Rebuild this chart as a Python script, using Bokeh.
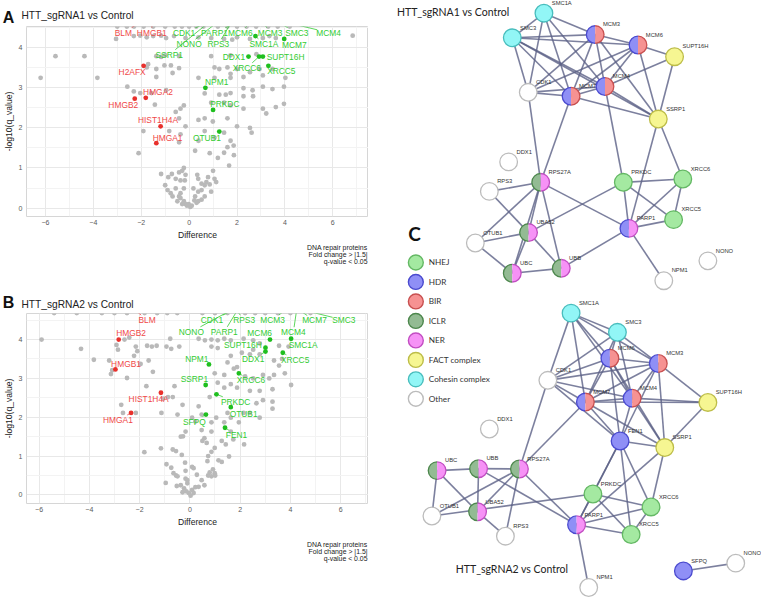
import math
from bokeh.plotting import figure
from bokeh.models import Range1d, FixedTicker
from bokeh.layouts import row, column
from bokeh.embed import file_html
from bokeh.resources import INLINE
from bokeh.core.properties import value

FONT = "Liberation Sans"
NFONT = "Lato"

# ---------------- Volcano A data ----------------
grayA = [(-6.2,3.25),(-5.58,3.79),(-4.37,3.79),(-3.83,3.25),(-3.05,4.22),(-2.31,4.29),(-2.04,4.3),(-1.77,4.26),(-1.5,4.29),(-1.17,4.3),(-0.96,4.24),(-0.63,4.29),(-0.15,4.24),(0.39,4.26),(0.92,4.24),(1.46,4.22),(1.8,4.2),(2.0,4.26),(2.54,4.22),(3.08,4.24),(3.35,4.29),(3.62,4.24),(6.83,4.3),
(-1.37,3.79),(-1.17,3.77),(-1.0,3.81),(-0.42,3.79),(0.92,3.79),(1.73,3.81),(2.81,3.84),
(-1.71,3.59),(-1.77,3.51),(-1.37,3.47),(-1.03,3.56),(-0.76,3.56),(-0.42,3.49),(-1.37,3.27),(-0.69,3.37),(0.39,3.25),(1.06,3.51),(1.26,3.47),(1.6,3.51),(1.73,3.35),(2.0,3.47),(2.27,3.27),(2.54,3.39),(2.94,3.47),(3.08,3.31),(3.48,3.47),(4.02,3.25),(1.73,3.25),(1.06,3.25),
(-2.58,3.03),(-2.31,2.91),(-2.04,2.87),(-1.57,2.87),(-0.96,2.94),(0.65,2.86),(1.26,2.83),(1.53,2.83),(1.73,2.87),(2.27,2.99),(2.65,2.94),(2.67,2.79),(3.08,3.03),(3.48,2.97),(3.96,3.03),(2.27,2.79),
(-1.43,2.58),(-0.56,2.4),(-0.22,2.56),(0.92,2.63),(1.46,2.63),(1.73,2.56),(2.27,2.48),(3.08,2.48),(3.62,2.52),(3.96,2.6),(-0.36,2.48),(3.22,2.36),
(-0.42,2.24),(0.39,2.2),(0.65,2.24),(0.99,2.16),(1.6,2.24),(2.0,2.04),(2.54,2.0),(2.61,1.88),(-0.15,2.04),(-0.83,1.92),(-0.36,1.84),(0.65,1.92),(1.46,1.88),(1.73,1.68),(1.86,1.56),(-1.91,1.92),(-0.42,1.64),(0.39,1.68),(1.6,1.52),(1.06,1.76),
(-2.11,1.37),(0.25,1.43),(0.86,1.37),(1.2,1.25),(1.46,1.38),(1.67,1.06),(1.87,1.32),(1.0,0.93),(-1.17,0.85),(-0.87,0.77),(-0.72,0.85),(-0.56,0.73),(-0.42,0.89),(-0.22,1.0),(-0.29,0.93),(-0.15,0.83),(-0.36,0.69),(-0.18,0.69),(-1.0,0.57),(-0.9,0.45),(-0.77,0.37),(-0.56,0.49),(-0.36,0.37),(-0.22,0.49),(0.34,0.83),(0.38,0.73),(0.52,0.61),(0.72,0.65),(0.79,0.77),(1.06,0.73),(1.13,0.65),(0.65,0.57),(0.86,0.59),(0.38,0.41),(0.52,0.45),(0.92,0.41),(0.18,0.49),(0.25,0.29),(0.65,0.29),(0.52,0.21),(0.38,0.17),(0.31,0.13),(-0.36,0.25),(-0.49,0.17),(-0.22,0.17),(-0.15,0.1),(-0.09,0.06),(0.05,0.03),(0.11,0.06),(-0.02,0.1),(-0.29,0.1),(-0.42,0.29),(-0.69,0.29),(0.22,0.19)]
grayA_x = [p[0] for p in grayA]
grayA_y = [p[1] for p in grayA]
topA_x = [-3.0,-2.6,-2.3,-1.9,-1.5,-1.0,-0.6,-0.3,0.0,0.3,0.6,1.2,1.6,2.0,2.4,2.8,3.3,3.7,4.2]
topA_y = 4.53

hitsA_names = ["BLM","HMGB1","H2AFX","HMGA2","HMGB2","HIST1H4A","HMGA1",
               "CDK1","PARP1","MCM6","MCM3","SMC3","MCM4","NONO","RPS3","SMC1A","MCM7","SSRP1",
               "DDX1","XRCC6","SUPT16H","XRCC5","NPM1","PRKDC","OTUB1"]
hitsA_x = [-2.07,-1.55,-1.9,-1.81,-2.27,-1.19,-1.37,
           0.75,1.95,2.55,3.1,3.75,4.15,1.15,1.75,2.77,3.97,0.8,
           2.48,2.92,3.08,3.31,0.68,1.0,1.26]
hitsA_y = [4.62,4.62,3.55,2.75,2.73,2.04,1.62,
           4.62,4.62,4.62,4.62,4.62,4.62,4.62,4.62,4.29,4.22,4.62,
           3.78,3.78,3.78,3.55,3.0,2.45,1.91]
hitsA_lx = [-2.75,-1.56,-2.38,-1.30,-2.75,-1.30,-0.90,
            -0.21,1.06,2.14,3.38,4.5,5.82,0.0,1.22,3.12,4.39,-0.83,
            1.87,2.41,4.03,3.85,1.15,1.49,0.74]
hitsA_ly = [4.38,4.38,3.40,2.90,2.56,2.19,1.76,
            4.38,4.38,4.38,4.38,4.38,4.38,4.09,4.09,4.10,4.06,3.83,
            3.77,3.50,3.76,3.41,3.15,2.60,1.74]
hitsA_dir = ["down"]*7 + ["up"]*18

# ---------------- Volcano B data ----------------
grayB = [(-5.9,4.0),(-4.33,3.76),(-3.82,3.48),(-3.21,3.46),(-3.09,3.21),(-3.14,3.11),(-2.92,3.86),(-2.86,3.74),(-2.6,4.0),(-2.41,4.05),(-2.15,3.82),(-2.09,3.7),(-2.22,3.58),(-1.7,3.84),(-1.51,3.82),(-1.32,3.84),(-0.93,3.82),(-0.74,3.76),(-0.78,4.02),(-0.42,3.82),(-1.96,3.37),(-1.64,3.46),(-1.47,3.17),(-2.5,3.01),(-1.73,2.8),(-2.73,2.32),(-2.66,2.11),(-2.15,2.11),(-1.06,2.48),(-0.87,2.52),(-0.61,2.8),(-0.68,2.52),(-0.29,2.32),(-1.13,2.11),(-0.49,2.07),
(0.35,4.02),(0.6,3.98),(0.86,4.0),(1.11,3.98),(1.37,4.02),(1.63,3.98),(2.14,4.02),(2.52,3.98),(2.78,3.9),(3.55,3.84),(3.93,3.82),(0.86,3.82),(1.11,3.78),(1.63,3.58),(1.5,3.41),(2.07,3.66),(2.39,3.62),(2.52,3.74),(2.78,3.62),(3.35,3.46),(3.67,3.5),(3.55,3.33),(3.78,3.13),(4.03,2.83),(0.99,3.13),(1.37,3.09),(1.75,3.25),(1.88,3.29),(2.2,3.05),(2.52,3.0),(2.91,3.09),(3.16,3.0),(3.35,3.09),(1.88,2.76),(1.63,2.85),(1.11,2.89),(1.37,2.76),(2.39,2.68),(2.78,2.68),(3.29,2.72),(3.29,2.4),(3.29,2.22),(2.91,2.44),(2.65,2.36),(2.39,2.11),(2.78,1.99),(2.14,2.11),(1.63,1.99),(1.95,1.87),(1.5,2.11),(1.05,1.99),(0.79,2.52),(0.35,2.28),(0.47,2.07),(0.09,1.99),(0.22,1.89),(0.86,1.87),(1.37,1.87),(0.86,1.63),(0.47,1.67),(-0.17,1.63),(-0.36,1.5),(1.63,1.63),
(-1.81,1.1),(-1.15,1.2),(-0.68,1.17),(-0.55,1.13),(-0.32,1.03),(-0.27,1.51),(0.5,1.39),(0.67,1.34),(0.58,1.46),(0.86,1.11),(0.99,1.21),(0.73,1.0),(0.7,0.87),(1.27,1.39),(1.43,1.3),(1.73,1.43),(2.16,1.3),(1.56,0.99),(1.14,0.89),(1.27,0.85),(0.92,0.66),(0.99,0.56),(1.01,0.5),(0.86,0.48),(0.73,0.5),(0.79,0.58),(-0.93,0.79),(-0.74,0.7),(-0.65,0.56),(-0.55,0.5),(-0.49,0.48),(-0.96,0.31),(-0.19,0.83),(0.09,0.72),(0.15,0.69),(-0.17,0.62),(0.28,0.52),(0.47,0.38),(0.58,0.25),(0.35,0.21),(0.22,0.2),(0.09,0.13),(-0.04,0.05),(-0.14,0.09),(-0.23,0.17),(-0.36,0.25),(-0.52,0.23),(-0.1,0.3),(0.03,-0.02),(0.15,0.05),(-0.29,0.07),(-0.17,0.42),(-0.1,0.38)]
grayB_x = [p[0] for p in grayB]
grayB_y = [p[1] for p in grayB]
topB_x = [-5.4,-4.5,-3.5,-3.0,-2.5,-1.8,-1.3,-0.9,-0.5,0.5,1.0,1.5,2.2,2.6,3.0,3.5,4.0,4.8]
topB_y = 4.68

hitsB_names = ["BLM","HMGB2","HMGB1","HIST1H4A","HMGA1",
               "CDK1","RPS3","MCM3","MCM7","SMC3","NONO","PARP1","MCM4","MCM6","SUPT16H","SMC1A",
               "NPM1","DDX1","XRCC5","SSRP1","XRCC6","PRKDC","OTUB1","SFPQ","FEN1"]
hitsB_x = [-2.18,-2.83,-2.96,-1.15,-2.34,
           1.75,1.85,3.8,4.35,4.5,1.65,1.9,4.25,3.19,3.01,4.03,
           0.76,3.01,3.7,0.63,1.95,1.06,1.63,0.64,1.4]
hitsB_y = [4.76,4.0,3.23,2.63,2.11,
           4.76,4.76,4.76,4.76,4.76,4.76,4.76,4.76,4.0,3.79,4.02,
           3.36,3.69,3.66,2.83,3.13,2.59,2.26,2.07,1.73]
hitsB_lx = [-1.7,-2.34,-2.54,-1.64,-2.86,
            0.88,2.16,3.29,4.96,6.13,0.06,1.37,4.12,2.78,2.11,4.51,
            0.28,2.52,4.19,0.18,2.43,1.82,2.14,0.18,1.86]
hitsB_ly = [4.5,4.16,3.37,2.48,1.93,
            4.5,4.5,4.5,4.49,4.5,4.2,4.2,4.19,4.16,3.86,3.86,
            3.5,3.5,3.48,2.98,2.95,2.4,2.09,1.89,1.54]
hitsB_dir = ["down"]*5 + ["up"]*20

XT = [-6, -4, -2, 0, 2, 4, 6]
XM = [-7, -5, -3, -1, 1, 3, 5, 7]
YT = [0, 1, 2, 3, 4]
YM = [0.5, 1.5, 2.5, 3.5, 4.5]
caption = ["DNA repair proteins", "Fold change > |1.5|", "q-value < 0.05"]

RED_PT, RED_TX = "#e8302c", "#f04848"
GRN_PT, GRN_TX = "#1fbf1f", "#33cc33"

W_LEFT = 368
BL = 21
BB = 22


def no_align(p):
    try:
        p.frame_align = False
    except Exception:
        pass


def text_panel(h):
    p = figure(width=W_LEFT, height=h, x_range=Range1d(0, W_LEFT), y_range=Range1d(h, 0),
               output_backend="svg", toolbar_location=None, min_border=0,
               x_axis_type=None, y_axis_type=None)
    p.grid.visible = False
    p.outline_line_color = None
    no_align(p)
    return p


def header(letter, title, h, letter_y, title_y):
    p = text_panel(h)
    p.text([8.0], [letter_y], text=[letter], text_font=value(FONT), text_font_size="16px",
           text_font_style="bold", text_color="#111111", text_align="center", text_baseline="middle")
    p.text([BL], [title_y], text=[title], text_font=value(FONT), text_font_size="10.2px",
           text_color="#222222", text_align="left", text_baseline="middle")
    return p


def footer(h, ys):
    p = text_panel(h)
    p.text([W_LEFT - 1] * len(ys), ys, text=caption, text_font=value(FONT), text_font_size="6.9px",
           text_color="#222222", text_align="right", text_baseline="middle")
    return p


def volcano(xr, yr, H, gx, gy, tx, ty, names, hx, hy, lx, ly, hdir):
    x0, x1 = xr
    y0, y1 = yr
    p = figure(width=W_LEFT, height=H, x_range=Range1d(x0, x1), y_range=Range1d(y0, y1),
               output_backend="svg", toolbar_location=None,
               min_border_left=BL, min_border_right=0, min_border_top=0, min_border_bottom=BB)
    no_align(p)
    p.outline_line_color = "#d6d6d6"
    p.xaxis.ticker = FixedTicker(ticks=XT, minor_ticks=XM)
    p.yaxis.ticker = FixedTicker(ticks=YT, minor_ticks=YM)
    for g in (p.xgrid[0], p.ygrid[0]):
        g.grid_line_color = "#e8e8e8"
        g.minor_grid_line_color = "#f3f3f3"
    for ax in (p.xaxis[0], p.yaxis[0]):
        ax.axis_line_color = None
        ax.major_tick_line_color = None
        ax.minor_tick_line_color = None
        ax.major_tick_out = 0
        ax.major_tick_in = 0
        ax.minor_tick_out = 0
        ax.minor_tick_in = 0
        ax.major_label_text_font = FONT
        ax.major_label_text_font_size = "7px"
        ax.major_label_text_color = "#5a5a5a"
        ax.axis_label_text_font = FONT
        ax.axis_label_text_font_size = "8.6px"
        ax.axis_label_text_font_style = "normal"
        ax.axis_label_text_color = "#222222"
    p.xaxis.axis_label = "Difference"
    p.yaxis.axis_label = "-log10(q_value)"
    p.xaxis.major_label_standoff = 3
    p.xaxis.axis_label_standoff = 2
    p.yaxis.major_label_standoff = 4
    p.yaxis.axis_label_standoff = 2

    ppx = (W_LEFT - BL) / (x1 - x0)
    ppy = (H - BB) / (y1 - y0)

    p.scatter(gx, gy, size=4.8, color="#b9b9b9", line_color=None)
    p.scatter(tx, [ty] * len(tx), size=4.8, color="#b9b9b9", line_color=None)

    fs = 8.4
    sx0, sy0, sx1, sy1, scol = [], [], [], [], []
    for n, a, b, c, d, dr in zip(names, hx, hy, lx, ly, hdir):
        dxp = (a - c) * ppx
        dyp = (b - d) * ppy
        hw = len(n) * fs * 0.31 + 1
        hh = fs * 0.6
        tx_ = hw / abs(dxp) if dxp != 0 else 1e9
        ty_ = hh / abs(dyp) if dyp != 0 else 1e9
        t = min(tx_, ty_)
        L = math.hypot(dxp, dyp)
        if t < 1 and (1 - t) * L > 4:
            te = 1 - 2.0 / L
            sx0.append(c + t * (a - c)); sy0.append(d + t * (b - d))
            sx1.append(c + te * (a - c)); sy1.append(d + te * (b - d))
            scol.append(RED_TX if dr == "down" else GRN_TX)
    p.segment(sx0, sy0, sx1, sy1, line_color=scol, line_width=0.8)

    pcol = [RED_PT if d == "down" else GRN_PT for d in hdir]
    tcol = [RED_TX if d == "down" else GRN_TX for d in hdir]
    p.scatter(hx, hy, size=4.8, color=pcol, line_color=None)
    p.text(lx, ly, text=names, text_color=tcol, text_font=value(FONT),
           text_font_size=f"{fs}px", text_align="center", text_baseline="middle")
    return p


# page blocks: A = 0..290, B = 290..598
hA = header("A", "HTT_sgRNA1 vs Control", 26, 17.0, 14.6)
pA = volcano((-6.79, 7.49), (-0.21, 4.53), 194 + BB, grayA_x, grayA_y, topA_x, topA_y,
             hitsA_names, hitsA_x, hitsA_y, hitsA_lx, hitsA_ly, hitsA_dir)
fA = footer(290 - 26 - 194 - BB, [5.4, 12.2, 19.0])

hB = header("B", "HTT_sgRNA2 vs Control", 23, 11.9, 13.9)
pB = volcano((-6.5, 7.11), (-0.22, 4.67), 194 + BB, grayB_x, grayB_y, topB_x, topB_y,
             hitsB_names, hitsB_x, hitsB_y, hitsB_lx, hitsB_ly, hitsB_dir)
fB = footer(308 - 23 - 194 - BB, [14.8, 22.0, 28.8])

# ---------------- Networks ----------------
CAT_FILL = {"NHEJ": "#a4e9a1", "HDR": "#8f8ff6", "BIR": "#f69292", "ICLR": "#93bb93",
            "NER": "#f692f6", "FACT": "#f6f692", "Cohesin": "#92f6f6", "Other": "#ffffff"}
CAT_LINE = {"NHEJ": "#64b864", "HDR": "#4a4acf", "BIR": "#c85050", "ICLR": "#4d874d",
            "NER": "#c24ec2", "FACT": "#bdbd48", "Cohesin": "#48bdbd", "Other": "#bcbcbc"}
legend_names = ["NHEJ", "HDR", "BIR", "ICLR", "NER", "FACT", "Cohesin", "Other"]
legend_labels = ["NHEJ", "HDR", "BIR", "ICLR", "NER", "FACT complex", "Cohesin complex", "Other"]

net1_names = ["SMC1A","SMC3","MCM3","MCM6","SUPT16H","CDK1","MCM7","MCM4","SSRP1","DDX1",
              "RPS27A","PRKDC","XRCC6","RPS3","XRCC5","UBA52","PARP1","OTUB1","UBC","UBB","NONO","NPM1"]
net1_x = [555,522.7,607.3,651,688.3,539,582.7,617.3,671.7,519,
          551.7,636,696.7,499.3,687.3,539.3,641.7,485,522.7,572.7,722.3,677.3]
net1_y = [13,38.3,35,45.7,57.7,94.3,98.3,88.3,121.7,165.7,
          186.7,186.7,183.3,196,225,238.3,234,249,280,275,267.3,287.7]
net1_grp = ["Cohesin","Cohesin","HDR/BIR","HDR/BIR","FACT","Other","HDR/BIR","HDR/BIR","FACT","Other",
            "ICLR/NER","NHEJ","NHEJ","Other","NHEJ","ICLR/NER","HDR/NER","Other","ICLR/NER","ICLR/NER","Other","Other"]
net1_edges = [("SMC1A","SMC3"),("SMC1A","MCM3"),("SMC1A","CDK1"),("SMC1A","MCM7"),("SMC1A","MCM4"),
              ("SMC3","MCM3"),("SMC3","CDK1"),("SMC3","MCM7"),("SMC3","MCM4"),("SMC3","SSRP1"),("SMC3","MCM6"),
              ("MCM3","MCM6"),("MCM3","MCM4"),("MCM3","MCM7"),("MCM3","CDK1"),("MCM3","SSRP1"),
              ("MCM6","SUPT16H"),("MCM6","MCM4"),("MCM6","MCM7"),("MCM6","CDK1"),("MCM6","SSRP1"),
              ("MCM4","MCM7"),("MCM4","CDK1"),("MCM4","SSRP1"),("MCM4","SUPT16H"),("MCM4","PRKDC"),
              ("MCM7","CDK1"),("MCM7","SSRP1"),("MCM7","RPS27A"),
              ("CDK1","RPS27A"),("SUPT16H","SSRP1"),("SSRP1","PARP1"),("SSRP1","XRCC6"),
              ("RPS27A","RPS3"),("RPS27A","UBA52"),("RPS27A","UBC"),("RPS27A","UBB"),("RPS27A","OTUB1"),("RPS27A","PARP1"),
              ("RPS3","UBA52"),("UBA52","UBC"),("UBA52","UBB"),("UBA52","OTUB1"),("UBC","UBB"),("UBC","OTUB1"),("UBB","PARP1"),
              ("PRKDC","XRCC6"),("PRKDC","XRCC5"),("PRKDC","PARP1"),("PRKDC","UBA52"),
              ("XRCC6","XRCC5"),("XRCC6","PARP1"),("XRCC5","PARP1"),("PARP1","NPM1")]

net2_names = ["SMC1A","SMC3","MCM6","MCM3","CDK1","MCM7","MCM4","SUPT16H","DDX1","FEN1","SSRP1",
              "UBC","UBB","RPS27A","PRKDC","XRCC6","OTUB1","UBA52","PARP1","XRCC5","RPS3","NPM1","SFPQ","NONO"]
net2_x = [582.7,630,622.3,671.7,559,597.3,645,722.3,499.3,632.7,678.3,
          446,488.3,530,605,664.3,440.7,487.3,588.3,644,515.7,600.7,697.3,750.7]
net2_y = [321,340.7,367.3,372.7,390,412.3,408.3,412.7,440,452.3,459,
          482.7,480.7,481,506.7,520,529.3,525,538.3,548.3,550,602.7,585.7,577.7]
net2_grp = ["Cohesin","Cohesin","HDR/BIR","HDR/BIR","Other","HDR/BIR","HDR/BIR","FACT","Other","HDR","FACT",
            "ICLR/NER","ICLR/NER","ICLR/NER","NHEJ","NHEJ","Other","ICLR/NER","HDR/NER","NHEJ","Other","Other","HDR","Other"]
net2_edges = [("SMC1A","SMC3"),("SMC1A","CDK1"),("SMC1A","MCM7"),("SMC1A","MCM3"),("SMC1A","MCM4"),("SMC1A","MCM6"),
              ("SMC3","MCM6"),("SMC3","MCM3"),("SMC3","CDK1"),("SMC3","MCM7"),("SMC3","MCM4"),
              ("MCM6","MCM3"),("MCM6","MCM7"),("MCM6","MCM4"),("MCM6","CDK1"),("MCM6","FEN1"),("MCM6","SSRP1"),
              ("MCM3","MCM4"),("MCM3","MCM7"),("MCM3","CDK1"),("MCM3","SUPT16H"),("MCM3","FEN1"),("MCM3","SSRP1"),
              ("CDK1","MCM7"),("CDK1","MCM4"),("CDK1","FEN1"),("CDK1","RPS27A"),
              ("MCM7","MCM4"),("MCM7","FEN1"),("MCM7","SSRP1"),("MCM7","RPS27A"),("MCM7","SUPT16H"),
              ("MCM4","SUPT16H"),("MCM4","FEN1"),("MCM4","SSRP1"),("SUPT16H","SSRP1"),
              ("FEN1","PRKDC"),("FEN1","XRCC6"),("FEN1","XRCC5"),("FEN1","PARP1"),("FEN1","SSRP1"),
              ("SSRP1","PARP1"),("SSRP1","XRCC6"),
              ("PRKDC","XRCC6"),("PRKDC","XRCC5"),("PRKDC","PARP1"),("PRKDC","OTUB1"),
              ("XRCC6","XRCC5"),("XRCC6","PARP1"),("XRCC5","PARP1"),
              ("PARP1","NPM1"),("PARP1","RPS27A"),("PARP1","UBB"),
              ("UBC","UBB"),("UBB","RPS27A"),("UBC","UBA52"),("UBC","OTUB1"),("UBB","UBA52"),
              ("RPS27A","UBA52"),("RPS27A","OTUB1"),("RPS27A","RPS3"),("UBA52","RPS3"),("SFPQ","NONO")]

pN = figure(width=393, height=598, x_range=Range1d(376, 777), y_range=Range1d(614, 0),
            output_backend="svg", toolbar_location=None, min_border=0,
            x_axis_type=None, y_axis_type=None)
pN.grid.visible = False
pN.outline_line_color = None
no_align(pN)

R = 9.0


def draw_net(names, xs, ys, grp, edges):
    idx = {n: i for i, n in enumerate(names)}
    pN.segment([xs[idx[a]] for a, b in edges], [ys[idx[a]] for a, b in edges],
               [xs[idx[b]] for a, b in edges], [ys[idx[b]] for a, b in edges],
               line_color="#5b6086", line_width=1.6, line_alpha=0.8)
    sx, sy, sf, sl = [], [], [], []
    dx, dy, lf, rf, ll, rl = [], [], [], [], [], []
    for x, y, g in zip(xs, ys, grp):
        parts = g.split("/")
        if len(parts) == 1:
            sx.append(x); sy.append(y); sf.append(CAT_FILL[g]); sl.append(CAT_LINE[g])
        else:
            dx.append(x); dy.append(y)
            lf.append(CAT_FILL[parts[0]]); rf.append(CAT_FILL[parts[1]])
            ll.append(CAT_LINE[parts[0]]); rl.append(CAT_LINE[parts[1]])
    pN.circle(sx, sy, radius=R, fill_color=sf, line_color=sl, line_width=1.3)
    pN.wedge(dx, dy, radius=R, start_angle=math.pi / 2, end_angle=3 * math.pi / 2,
             fill_color=lf, line_color=None)
    pN.wedge(dx, dy, radius=R, start_angle=-math.pi / 2, end_angle=math.pi / 2,
             fill_color=rf, line_color=None)
    pN.arc(dx, dy, radius=R, start_angle=math.pi / 2, end_angle=3 * math.pi / 2,
           line_color=ll, line_width=1.3)
    pN.arc(dx, dy, radius=R, start_angle=-math.pi / 2, end_angle=math.pi / 2,
           line_color=rl, line_width=1.3)
    pN.text([x + 8 for x in xs], [y - 10.5 for y in ys], text=names, text_font=value(FONT),
            text_font_size="5.8px", text_color="#333333", text_align="left", text_baseline="middle")


draw_net(net1_names, net1_x, net1_y, net1_grp, net1_edges)
draw_net(net2_names, net2_x, net2_y, net2_grp, net2_edges)

leg_y = [269 + 20 * i for i in range(len(legend_names))]
pN.circle([424.3] * len(leg_y), leg_y, radius=7.6,
          fill_color=[CAT_FILL[c] for c in legend_names],
          line_color=[CAT_LINE[c] for c in legend_names], line_width=1.4)
pN.text([437.5] * len(leg_y), leg_y, text=legend_labels, text_font=value(NFONT),
        text_font_size="8.2px", text_color="#333333", text_align="left", text_baseline="middle")
pN.text([423], [239.5], text=["C"], text_font=value(NFONT), text_font_size="19px",
        text_font_style="bold", text_color="#111111", text_align="center", text_baseline="middle")
pN.text([405, 465], [12, 584], text=["HTT_sgRNA1  vs Control", "HTT_sgRNA2  vs Control"],
        text_font=value(NFONT), text_font_size="10.5px", text_color="#222222",
        text_align="left", text_baseline="middle")

layout = row(column(hA, pA, fA, hB, pB, fB), pN)
open("out.html", "w").write(file_html(layout, INLINE))
